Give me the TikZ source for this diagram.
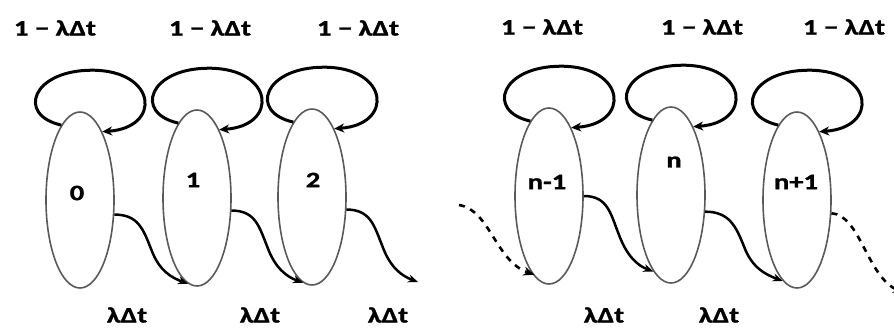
\documentclass[tikz,border=0pt]{standalone}
\usepackage{fontspec}
\setmainfont[FakeStretch=1.3,BoldFeatures={FakeBold=1.3}]{Carlito}
\usetikzlibrary{shapes.geometric,arrows.meta,calc}
\tikzset{
  st/.style={ellipse,draw=black!65,line width=1.6pt,minimum width=68pt,minimum height=176pt,inner sep=0pt},
  lbl/.style={font=\fontsize{22}{22}\selectfont\bfseries,inner sep=0pt},
  loopst/.style={draw=black,line width=3pt,-{Stealth[length=10pt,width=9pt]}},
  wavy/.style={draw=black,line width=2.5pt,-{Stealth[length=10pt,width=8pt]}},
  dwavy/.style={draw=black,line width=2.6pt,dash pattern=on 6pt off 6pt,-{Stealth[length=11pt,width=9pt,sep=-2pt]}}
}
\begin{document}
\begin{tikzpicture}[x=1pt,y=-1pt]
\useasboundingbox (0,0) rectangle (894,327);
\clip (0,0) rectangle (894,327);
% states
\node[st] (e0) at (80,200) {};
\node[st] (e1) at (197,198) {};
\node[st] (e2) at (312,197) {};
\node[st] (e3) at (549,196) {};
\node[st] (e4) at (671,195) {};
\node[st] (e5) at (797,200) {};
% state labels
\node[lbl] (s0) at (77,193) {0};
\node[lbl] (s1) at (193,180) {1};
\node[lbl] (s2) at (313,180) {2};
\node[lbl] (s3) at (547,182) {n-1};
\node[lbl] (s4) at (674,162) {n};
\node[lbl] (s5) at (796,182) {n+1};
% top labels
\node[lbl] (t0) at (55,28) {1 − λΔt};
\node[lbl] (t1) at (210,28) {1 − λΔt};
\node[lbl] (t2) at (358,28) {1 − λΔt};
\node[lbl] (t3) at (542,27) {1 − λΔt};
\node[lbl] (t4) at (702,27) {1 − λΔt};
\node[lbl] (t5) at (844,27) {1 − λΔt};
% bottom labels
\node[lbl] (b0) at (127,315) {λΔt};
\node[lbl] (b1) at (260,315) {λΔt};
\node[lbl] (b2) at (388,315) {λΔt};
\node[lbl] (b3) at (604,315) {λΔt};
\node[lbl] (b4) at (719,315) {λΔt};
% self loops
\foreach \n in {e0,e1,e2,e3,e4,e5}
  \draw[loopst] (\n.104) .. controls +(-45,-10) and +(-60,0) .. ([shift={(12,-41)}]\n.north)
     .. controls +(65,0) and +(60,-4) .. (\n.72);
% free ends
\coordinate (in) at (459,205);
\coordinate (out2) at (418,282);
\coordinate (out5) at (902,292);
% transitions
\draw[wavy] (e0.-23) .. controls +(24,0) and +(-8,-20) .. ($(e0.-23)!0.5!(e1.264)$)
   .. controls +(8,22) and +(-16,-6) .. (e1.264);
\draw[wavy] (e1.-20) .. controls +(24,0) and +(-8,-20) .. ($(e1.-20)!0.5!(e2.264)$)
   .. controls +(8,22) and +(-16,-6) .. (e2.264);
\draw[wavy] (e2.-20) .. controls +(24,0) and +(-8,-20) .. ($(e2.-20)!0.5!(out2)$)
   .. controls +(8,22) and +(-16,-6) .. (out2);
\draw[wavy] (e3.0) .. controls +(24,0) and +(-8,-20) .. ($(e3.0)!0.5!(e4.257)$)
   .. controls +(8,22) and +(-16,-6) .. (e4.257);
\draw[wavy] (e4.-26) .. controls +(24,0) and +(-8,-20) .. ($(e4.-26)!0.5!(e5.260)$)
   .. controls +(8,22) and +(-16,-6) .. (e5.260);
\draw[dwavy] (in) .. controls +(31,5) and +(-37,-13) .. (e3.258);
\draw[dwavy] (e5.-21) .. controls +(29,2) and +(-35,-15) .. (out5);
\end{tikzpicture}
\end{document}
